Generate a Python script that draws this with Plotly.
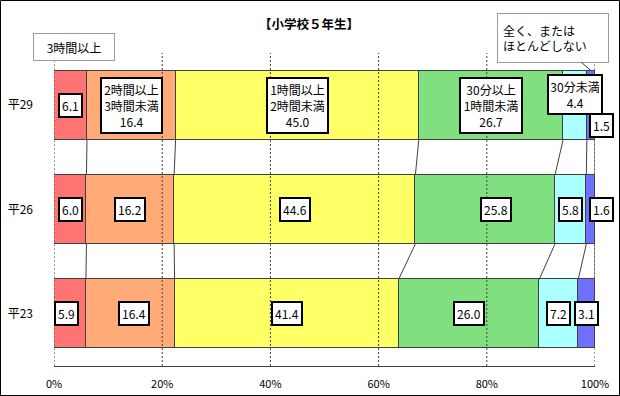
import plotly.graph_objects as go

# ---------------- data ----------------
categories = ["平29", "平26", "平23"]
series_names = ["3時間以上", "2時間以上<br>3時間未満", "1時間以上<br>2時間未満",
                "30分以上<br>1時間未満", "30分未満", "全く、または<br>ほとんどしない"]
v_3h_plus = [6.1, 6.0, 5.9]
v_2_3h = [16.4, 16.2, 16.4]
v_1_2h = [45.0, 44.6, 41.4]
v_30m_1h = [26.7, 25.8, 26.0]
v_under_30m = [4.4, 5.8, 7.2]
v_none = [1.5, 1.6, 3.1]
x_tick_values = [0, 20, 40, 60, 80, 100]
x_tick_labels = ["0%", "20%", "40%", "60%", "80%", "100%"]
title_text = "【小学校５年生】"

# ---------------- styles ----------------
colors = ["#FF7373", "#FFAA77", "#FFFF66", "#80E080", "#AAFFFF", "#7070FF"]
edge = "#404040"
FONT = "Noto Sans CJK JP"
W, H = 620, 396
ML, MR, MT, MB = 54, 25, 53, 30
BAR_W = 0.66
PW, PH = W - ML - MR, H - MT - MB

series = [v_3h_plus, v_2_3h, v_1_2h, v_30m_1h, v_under_30m, v_none]
n_rows = len(categories)
rows = list(range(n_rows))

# normalized (100% stacked) cumulative positions
norm = []
for r in rows:
    tot = sum(s[r] for s in series)
    norm.append([s[r] / tot * 100 for s in series])
cum_end = [[sum(norm[r][:k + 1]) for k in range(len(series))] for r in rows]
cum_mid = [[cum_end[r][k] - norm[r][k] / 2 for k in range(len(series))] for r in rows]

fig = go.Figure()
for k, s in enumerate(series):
    fig.add_trace(go.Bar(
        y=rows, x=s, orientation="h", width=BAR_W,
        marker=dict(color=colors[k], line=dict(color=edge, width=1)),
        name=series_names[k], showlegend=False, hoverinfo="skip"))

# series lines between bars
lx, ly = [], []
for k in range(len(series)):
    for r in range(n_rows - 1):
        lx += [cum_end[r][k], cum_end[r + 1][k], None]
        ly += [r + BAR_W / 2, r + 1 - BAR_W / 2, None]
fig.add_trace(go.Scatter(x=lx, y=ly, mode="lines", line=dict(color=edge, width=1),
                         showlegend=False, hoverinfo="skip"))

# label offsets (pixels) where the reference moved the labels
offsets = {(0, 4): (0, 11), (0, 5): (11, -20), (1, 3): (11, 0), (1, 5): (11, 0),
           (2, 0): (-3, 0), (2, 1): (4, 0)}
# box sizes for the labelled (name + value) boxes
box_size = {(0, 1): (55, 49), (0, 2): (55, 49), (0, 3): (56, 49), (0, 4): (48, 33)}

annotations = []
for r in rows:
    for k, s in enumerate(series):
        txt = f"{s[r]:.1f}"
        if r == 0 and k in (1, 2, 3, 4):
            txt = series_names[k] + "<br>" + txt
        dx, dy = offsets.get((r, k), (0, 0))
        ann = dict(
            x=cum_mid[r][k], y=r, xref="x", yref="y", text=txt, showarrow=False,
            xshift=dx, yshift=dy, bgcolor="white", bordercolor="black",
            borderwidth=2, borderpad=2, font=dict(family=FONT, size=12, color="black"))
        if (r, k) in box_size:
            ann["width"], ann["height"] = box_size[(r, k)]
            ann["valign"] = "middle"
        annotations.append(ann)

# callout for first series
annotations.append(dict(
    x=cum_mid[0][0], y=-BAR_W / 2, xref="x", yref="y", text=series_names[0],
    showarrow=False, xshift=3.5, yshift=24, width=72, height=18, borderpad=4,
    bgcolor="white", bordercolor="#9a9a9a", borderwidth=1,
    font=dict(family=FONT, size=12, color="black")))
# callout for last series with leader line
annotations.append(dict(
    x=cum_mid[0][5], y=-BAR_W / 2, xref="x", yref="y", text=series_names[5],
    showarrow=True, arrowhead=0, arrowwidth=1, arrowcolor="#333333",
    ax=-37.5, ay=-33, standoff=0, width=100, height=38, borderpad=5, align="left",
    bgcolor="white", bordercolor="#9a9a9a", borderwidth=1,
    font=dict(family=FONT, size=12, color="black")))

# title
annotations.append(dict(
    x=(309 - ML) / PW, y=(H - MB - 23) / PH, xref="paper", yref="paper",
    text="<b>" + title_text + "</b>", showarrow=False, yanchor="middle",
    font=dict(family=FONT, size=12.5, color="black")))

# dashed gridlines drawn over the bars (as in the reference)
shapes = []
for t in x_tick_values:
    shapes.append(dict(type="line", xref="x", yref="paper", x0=t, x1=t, y0=0, y1=1,
                       line=dict(color=edge, width=1, dash="2px,2px"), layer="above"))
shapes.append(dict(type="rect", xref="paper", yref="paper",
                   x0=(0.5 - ML) / PW, x1=(W - 0.5 - ML) / PW,
                   y0=(H - MB - (H - 0.5)) / PH, y1=(H - MB - 0.5) / PH,
                   line=dict(color="#000000", width=1), layer="above"))

fig.update_layout(
    width=W, height=H, barmode="stack", barnorm="percent", bargap=0,
    margin=dict(l=ML, r=MR, t=MT, b=MB, autoexpand=False),
    paper_bgcolor="white", plot_bgcolor="white",
    font=dict(family=FONT, color="black"),
    annotations=annotations, shapes=shapes,
)
fig.update_xaxes(range=[0, 100], tickvals=x_tick_values, ticktext=x_tick_labels,
                 showgrid=False, zeroline=False, showline=True, linecolor=edge, linewidth=1,
                 ticks="", ticklabelstandoff=8, tickfont=dict(family=FONT, size=11, color="black"))
fig.update_yaxes(range=[n_rows - 0.5, -0.5], tickvals=rows, ticktext=categories,
                 showgrid=False, zeroline=False, showline=False, ticks="",
                 ticklabelstandoff=20, tickfont=dict(family=FONT, size=12, color="black"))

fig.write_html("out.html", config={"displayModeBar": False},
               post_script="document.body.style.margin='0';")
